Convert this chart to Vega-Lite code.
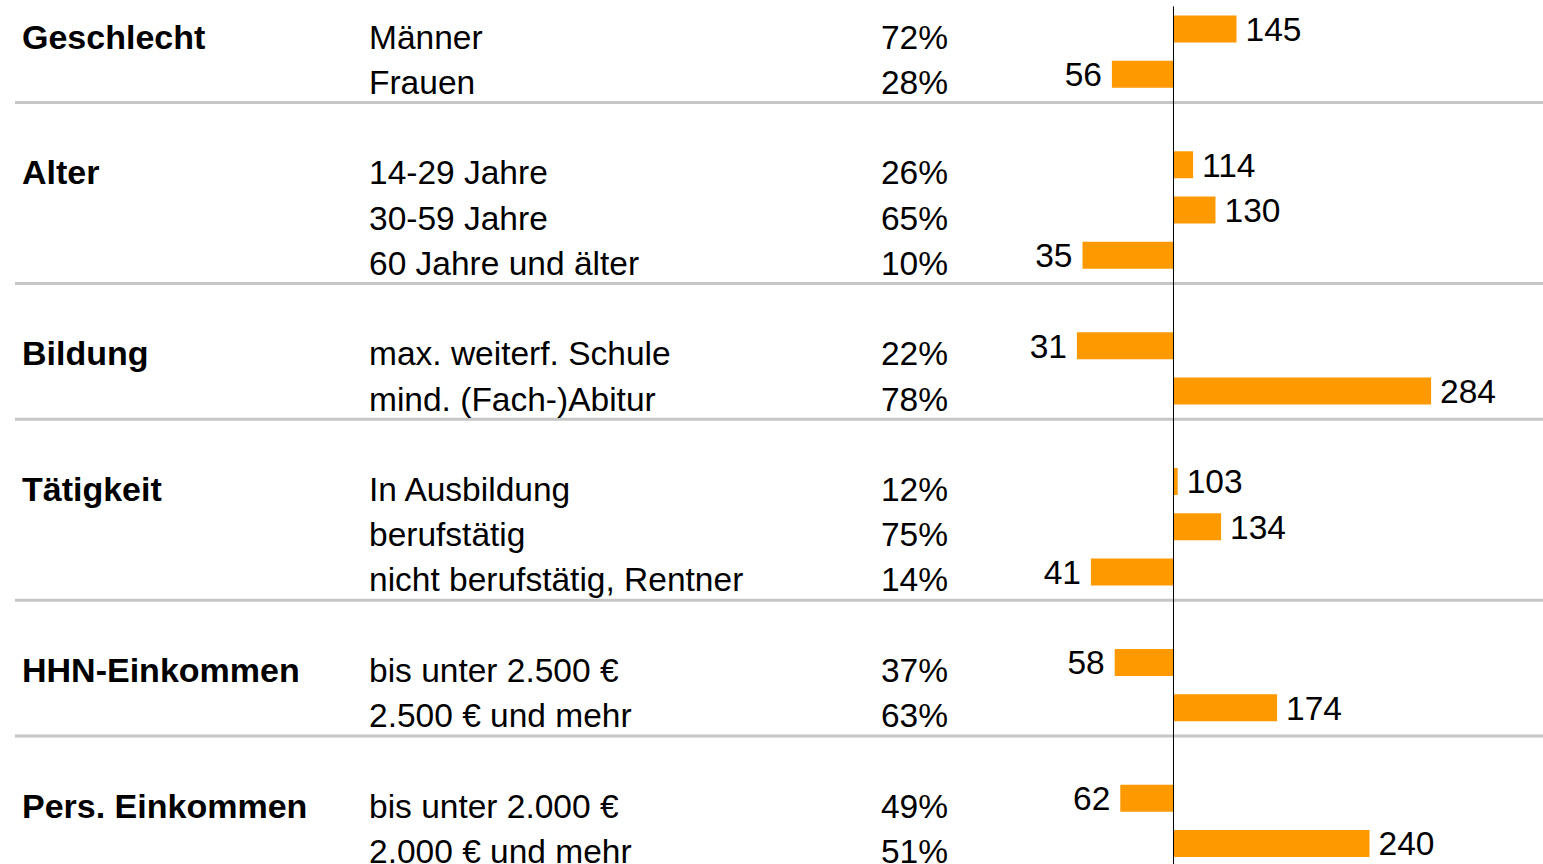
{
  "$schema": "https://vega.github.io/schema/vega-lite/v6.json",
  "width": 1530,
  "height": 864,
  "padding": {"left": 13, "top": 0, "right": 0, "bottom": 0},
  "autosize": {"type": "pad"},
  "config": {
    "view": {"stroke": null},
    "text": {"font": "Liberation Sans", "fontSize": 33.5, "color": "#000000"}
  },
  "data": {
    "values": [
      {"group": "Geschlecht", "cat": "Männer", "pct": "72%", "idx": 145},
      {"group": "", "cat": "Frauen", "pct": "28%", "idx": 56},
      {"group": "Alter", "cat": "14-29 Jahre", "pct": "26%", "idx": 114},
      {"group": "", "cat": "30-59 Jahre", "pct": "65%", "idx": 130},
      {"group": "", "cat": "60 Jahre und älter", "pct": "10%", "idx": 35},
      {"group": "Bildung", "cat": "max. weiterf. Schule", "pct": "22%", "idx": 31},
      {"group": "", "cat": "mind. (Fach-)Abitur", "pct": "78%", "idx": 284},
      {"group": "Tätigkeit", "cat": "In Ausbildung", "pct": "12%", "idx": 103},
      {"group": "", "cat": "berufstätig", "pct": "75%", "idx": 134},
      {"group": "", "cat": "nicht berufstätig, Rentner", "pct": "14%", "idx": 41},
      {"group": "HHN-Einkommen", "cat": "bis unter 2.500 €", "pct": "37%", "idx": 58},
      {"group": "", "cat": "2.500 € und mehr", "pct": "63%", "idx": 174},
      {"group": "Pers. Einkommen", "cat": "bis unter 2.000 €", "pct": "49%", "idx": 62},
      {"group": "", "cat": "2.000 € und mehr", "pct": "51%", "idx": 240}
    ]
  },
  "encoding": {
    "y": {
      "field": "cat",
      "type": "nominal",
      "axis": null,
      "scale": {
        "domain": ["Männer", "Frauen", "s1", "14-29 Jahre", "30-59 Jahre", "60 Jahre und älter", "s2", "max. weiterf. Schule", "mind. (Fach-)Abitur", "s3", "In Ausbildung", "berufstätig", "nicht berufstätig, Rentner", "s4", "bis unter 2.500 €", "2.500 € und mehr", "s5", "bis unter 2.000 €", "2.000 € und mehr"],
        "range": [6.4, 866.1],
        "paddingInner": 0,
        "paddingOuter": 0
      }
    }
  },
  "layer": [
    {
      "data": {"values": [{"cat": "s1"}, {"cat": "s2"}, {"cat": "s3"}, {"cat": "s4"}, {"cat": "s5"}]},
      "mark": {"type": "rule", "color": "#c6c6c6", "strokeWidth": 3, "yOffset": -17},
      "encoding": {"y": {"field": "cat", "type": "nominal"}}
    },
    {
      "mark": {"type": "bar", "color": "#FF9900", "height": 27, "clip": true},
      "encoding": {
        "x": {"field": "idx", "type": "quantitative", "axis": null, "scale": {"domain": [-727.5, 365.36], "nice": false, "zero": false}},
        "x2": {"datum": 100}
      }
    },
    {
      "data": {"values": [{"cat": "Männer"}]},
      "mark": {"type": "rule", "color": "#000000", "strokeWidth": 1},
      "encoding": {
        "x": {"datum": 100, "type": "quantitative"},
        "y": {"field": "cat", "type": "nominal", "bandPosition": 0},
        "y2": {"value": "height"}
      }
    },
    {
      "mark": {"type": "text", "align": "left", "baseline": "middle", "fontWeight": "bold", "fontSize": 34, "dy": 9.5, "clip": true},
      "encoding": {"x": {"value": 7}, "text": {"field": "group"}}
    },
    {
      "mark": {"type": "text", "align": "left", "baseline": "middle", "dy": 9.5, "clip": true},
      "encoding": {"x": {"value": 354}, "text": {"field": "cat"}}
    },
    {
      "mark": {"type": "text", "align": "right", "baseline": "middle", "dy": 9.5, "clip": true},
      "encoding": {"x": {"value": 933}, "text": {"field": "pct"}}
    },
    {
      "transform": [{"filter": "datum.idx >= 100"}],
      "mark": {"type": "text", "align": "left", "baseline": "middle", "dx": 9, "dy": 2, "clip": true},
      "encoding": {"x": {"field": "idx", "type": "quantitative"}, "text": {"field": "idx", "type": "quantitative"}}
    },
    {
      "transform": [{"filter": "datum.idx < 100"}],
      "mark": {"type": "text", "align": "right", "baseline": "middle", "dx": -10, "dy": 2, "clip": true},
      "encoding": {"x": {"field": "idx", "type": "quantitative"}, "text": {"field": "idx", "type": "quantitative"}}
    }
  ]
}
